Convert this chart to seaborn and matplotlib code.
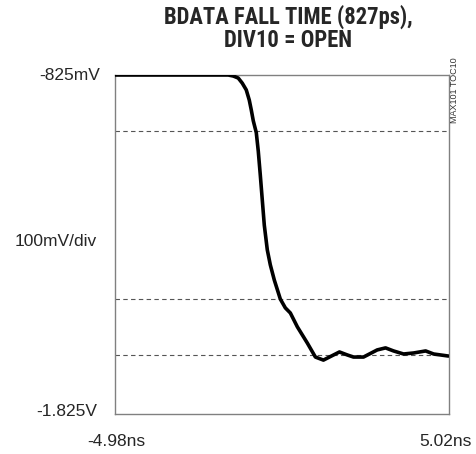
import matplotlib
matplotlib.use("Agg")
import matplotlib.pyplot as plt
import seaborn as sns
import pandas as pd

# Data (time in ns, voltage in mV)
time_ns = [-4.98, -2.43, -1.59, -1.44, -1.29, -1.17, -1.05, -0.96, -0.90, -0.84,
           -0.75, -0.69, -0.63, -0.57, -0.51, -0.42, -0.33, -0.21, -0.03, 0.12,
           0.27, 0.48, 0.78, 1.02, 1.26, 1.56, 1.74, 1.98, 2.16, 2.46,
           2.87, 3.12, 3.36, 3.66, 3.96, 4.32, 4.56, 5.00]
volt_mv = [-825, -825, -825, -828, -834, -849, -869, -899, -928, -960,
           -995, -1050, -1120, -1194, -1268, -1341, -1385, -1430, -1486, -1512,
           -1527, -1568, -1616, -1657, -1666, -1651, -1642, -1651, -1657, -1657,
           -1636, -1630, -1639, -1648, -1645, -1639, -1648, -1654]
ref_levels_mv = [-990, -1486, -1651]
x_range = [-4.98, 5.02]
y_range = [-1825, -825]
x_labels = ["-4.98ns", "5.02ns"]
y_top_label = "-825mV"
y_mid_label = "100mV/div"
y_bot_label = "-1.825V"
title = "BDATA FALL TIME (827ps),\nDIV10 = OPEN"
tag = "MAX101 TOC10"

sns.set_style("white")
plt.rcParams['font.family'] = ['Liberation Sans', 'DejaVu Sans']

df = pd.DataFrame({"t": time_ns, "v": volt_mv})

fig = plt.figure(figsize=(4.77, 4.54), dpi=100)
ax = fig.add_axes([115/477, 40/454, 334/477, 339/454])

for lv in ref_levels_mv:
    ax.axhline(lv, color="#555555", lw=0.8, ls=(0, (4, 3)), zorder=1)

sns.lineplot(data=df, x="t", y="v", ax=ax, color="black", lw=2.6, zorder=3)
for ln in ax.lines:
    ln.set_solid_joinstyle("round")
    ln.set_solid_capstyle("round")

ax.set_xlim(*x_range)
ax.set_ylim(*y_range)
ax.set_xticks([])
ax.set_yticks([])
ax.set_xlabel("")
ax.set_ylabel("")
for s in ax.spines.values():
    s.set_color("#808080")
    s.set_linewidth(1.0)
    s.set_visible(True)

fs = 12.5
fig.text(100/477, 1 - 75/454, y_top_label, ha="right", va="center", fontsize=fs)
fig.text(97/477, 1 - 241/454, y_mid_label, ha="right", va="center", fontsize=fs)
fig.text(97/477, 1 - 412/454, y_bot_label, ha="right", va="center", fontsize=fs)
fig.text(116/477, 1 - 442/454, x_labels[0], ha="center", va="center", fontsize=fs)
fig.text(445/477, 1 - 442/454, x_labels[1], ha="center", va="center", fontsize=fs)
fig.text(455/477, 1 - 57/454, tag, ha="center", va="top", rotation=90, fontsize=6.5, color="#333333")

fig.text(288/477, 1 - 28/454, title, ha="center", va="center", fontsize=16.3,
         fontweight="heavy", linespacing=1.0,
         family=['Liberation Sans Narrow', 'Roboto Condensed', 'Liberation Sans'])

fig.savefig("out.png", dpi=100)
